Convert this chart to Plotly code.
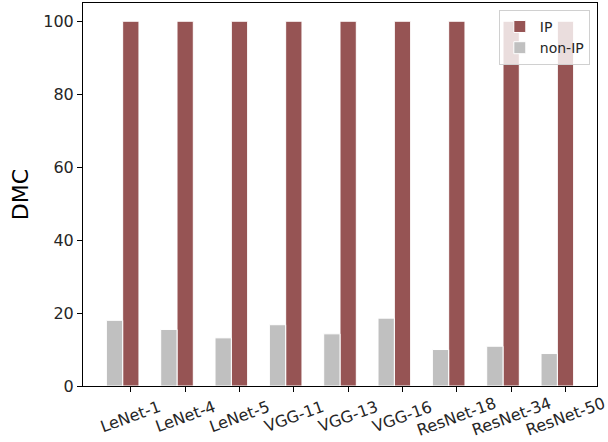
import plotly.graph_objects as go

models = ["LeNet-1", "LeNet-4", "LeNet-5", "VGG-11", "VGG-13", "VGG-16",
          "ResNet-18", "ResNet-34", "ResNet-50"]
ip_values = [100, 100, 100, 100, 100, 100, 100, 100, 100]
non_ip_values = [18.0, 15.5, 13.2, 16.8, 14.3, 18.6, 10.0, 10.9, 8.9]
y_ticks = [0, 20, 40, 60, 80, 100]

idx = list(range(len(models)))
bar_w = 0.3

fig = go.Figure()
fig.add_trace(go.Bar(
    x=[i for i in idx], y=ip_values, width=bar_w, name="IP",
    marker=dict(color="#965454", line=dict(color="white", width=1)),
))
fig.add_trace(go.Bar(
    x=[i - 0.3 for i in idx], y=non_ip_values, width=bar_w, name="non-IP",
    marker=dict(color="#c0c0c0", line=dict(color="white", width=1)),
))

font_family = "DejaVu Sans, sans-serif"

# x tick labels, center-anchored and rotated like the reference
for i, name in zip(idx, models):
    fig.add_annotation(
        x=i, xref="x", y=0, yref="paper",
        text=name, showarrow=False, textangle=-20,
        xanchor="center", yanchor="middle", yshift=-30,
        font=dict(size=16, family=font_family, color="#262626"),
    )

fig.update_layout(
    width=608, height=442,
    margin=dict(l=83, r=11, t=3, b=56),
    paper_bgcolor="white", plot_bgcolor="white",
    barmode="overlay",
    font=dict(family=font_family, color="#262626", size=16),
    showlegend=True,
    legend=dict(
        x=0.986, y=0.982, xanchor="right", yanchor="top",
        bgcolor="rgba(255,255,255,0.8)", bordercolor="#d0d0d0", borderwidth=1,
        font=dict(size=14, family=font_family),
        traceorder="normal",
    ),
    xaxis=dict(
        range=[-0.88, 8.58],
        tickmode="array", tickvals=idx, showticklabels=False,
        ticks="outside", ticklen=5, tickcolor="black",
        showline=True, linecolor="black", linewidth=1, mirror=True,
        showgrid=False, zeroline=False, automargin=False,
    ),
    yaxis=dict(
        range=[0, 105],
        tickvals=y_ticks,
        ticks="outside", ticklen=5, tickcolor="black",
        showline=True, linecolor="black", linewidth=1, mirror=True,
        showgrid=False, zeroline=False, automargin=False,
        title=dict(text="DMC", font=dict(size=22, color="black"), standoff=8),
        tickfont=dict(size=16),
    ),
)

fig.write_html("out.html", config={"displayModeBar": False},
               post_script="document.body.style.margin='0';")
